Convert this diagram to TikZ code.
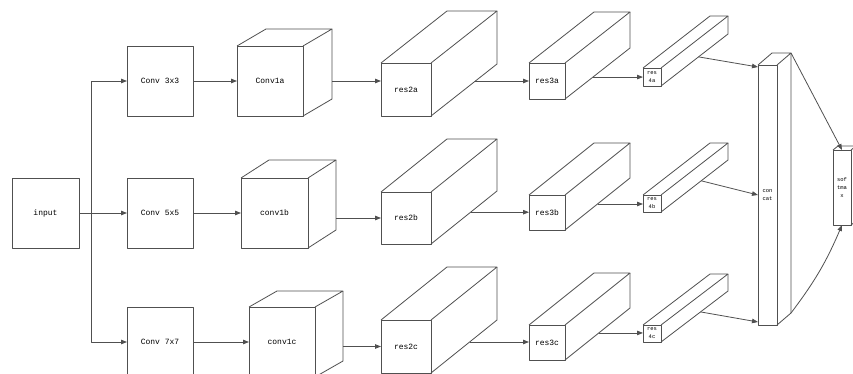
\documentclass[tikz,border=0pt]{standalone}
\usepackage{fontspec}
\setmainfont{Liberation Mono}
\usetikzlibrary{arrows.meta,calc}
\definecolor{linec}{HTML}{505050}
\tikzset{
  ln/.style={draw=linec, line width=0.8pt, line join=round},
  blk/.style={ln, inner sep=0pt, outer sep=0pt, font=\fontsize{8}{9}\selectfont, text=black, align=center},
  smalltext/.style={font=\fontsize{5.5}{8}\selectfont},
  arr/.style={ln, -{Triangle[length=6pt,width=4.5pt]}},
}
% name, x, y, w, h, dx, dy, style, text
\newcommand\cub[9]{%
  \node[blk, minimum width=#4pt, minimum height=#5pt, anchor=north west, #8] (#1) at (#2,#3) {#9};
  \draw[ln] (#1.north west) -- ++(#6,#7) -- ($(#1.north east)+(#6,#7)$) coordinate (#1-bne) -- (#1.north east);
  \draw[ln] (#1-bne) -- ($(#1.south east)+(#6,#7)$) coordinate (#1-bse) -- (#1.south east);
}
\begin{document}
\begin{tikzpicture}[x=1pt,y=-1pt]
\useasboundingbox (0,0) rectangle (853,374);
\clip (0,0) rectangle (853,374);
\fill[white] (0,0) rectangle (853,374);

% plain boxes
\node[blk, minimum width=67pt, minimum height=70pt, anchor=north west] (input) at (12,178) {input};
\node[blk, minimum width=66pt, minimum height=70pt, anchor=north west] (c3) at (127,46) {Conv 3x3};
\node[blk, minimum width=66pt, minimum height=70pt, anchor=north west] (c5) at (127,178) {Conv 5x5};
\node[blk, minimum width=66pt, minimum height=70pt, anchor=north west] (c7) at (127,307) {Conv 7x7};

% cuboids
\cub{c1a}{237}{46}{66}{70}{29}{-17}{}{Conv1a}
\cub{c1b}{241}{178}{67}{70}{28}{-18}{}{conv1b}
\cub{c1c}{249}{307}{66}{70}{28}{-16}{}{conv1c}
\cub{r2a}{381}{63}{50}{53}{66}{-52}{}{res2a}
\cub{r2b}{381}{192}{50}{52}{66}{-53}{}{res2b}
\cub{r2c}{381}{320}{50}{53}{66}{-53}{}{res2c}
\cub{r3a}{529}{63}{36}{36}{65}{-51}{}{res3a}
\cub{r3b}{529}{195}{36}{35}{65}{-52}{}{res3b}
\cub{r3c}{529}{325}{36}{35}{65}{-52}{}{res3c}
\cub{r4a}{643}{68}{18}{18}{67}{-52}{smalltext}{res\\4a}
\cub{r4b}{643}{195}{18}{17}{67}{-52}{smalltext}{res\\4b}
\cub{r4c}{643}{325}{18}{17}{67}{-51}{smalltext}{res\\4c}
\cub{cc}{758}{65}{19}{260}{14}{-12}{smalltext}{con\\cat}
\cub{sm}{833}{150}{18}{75}{5}{-4}{smalltext}{sof\\tma\\x}

% input branching
\coordinate (br) at ($(input.east)+(12,0)$);
\draw[arr] (input.east) -- (c5.west);
\draw[arr] (br) |- (c3.west);
\draw[arr] (br) |- (c7.west);

% conv -> conv1
\draw[arr] (c3) -- (c1a);
\draw[arr] (c5) -- (c1b);
\draw[arr] (c7) -- (c1c);

% conv1 -> res2
\draw[arr] (c1a.east -| c1a-bne) -- (c1a.east -| r2a.west);
\draw[arr] (r2b.west -| c1b-bne) -- (r2b.west);
\draw[arr] (r2c.west -| c1c-bne) -- (r2c.west);

% res2 -> res3
\coordinate (o2a) at ($(r2a.south east)!0.673!(r2a-bse)$);
\coordinate (o2b) at ($(r2b.south east)!0.60!(r2b-bse)$);
\coordinate (o2c) at ($(r2c.south east)!0.585!(r2c-bse)$);
\draw[arr] (o2a) -- (o2a -| r3a.west);
\draw[arr] (o2b) -- (o2b -| r3b.west);
\draw[arr] (o2c) -- (o2c -| r3c.west);

% res3 -> res4
\coordinate (o3a) at ($(r3a.south east)!0.43!(r3a-bse)$);
\coordinate (o3b) at ($(r3b.south east)!0.5!(r3b-bse)$);
\coordinate (o3c) at ($(r3c.south east)!0.52!(r3c-bse)$);
\draw[arr] (o3a) -- (o3a -| r4a.west);
\draw[arr] (o3b) -- (o3b -| r4b.west);
\draw[arr] (o3c) -- (o3c -| r4c.west);

% res4 -> concat
\coordinate (o4a) at ($(r4a.south east)!0.56!(r4a-bse)$);
\coordinate (o4b) at ($(r4b.south east)!0.6!(r4b-bse)$);
\coordinate (o4c) at ($(r4c.south east)!0.59!(r4c-bse)$);
\coordinate (ci1) at ($(cc.north west)+(0,2)$);
\coordinate (ci3) at ($(cc.south west)+(0,-3)$);
\draw[arr] (o4a) -- (ci1);
\draw[arr] (o4b) -- (cc.west);
\draw[arr] (o4c) -- (ci3);

% concat -> softmax
\draw[arr] (cc-bne) -- (sm.north);
\draw[arr] (cc-bse) to[bend right=7] (sm.south);
\end{tikzpicture}
\end{document}
